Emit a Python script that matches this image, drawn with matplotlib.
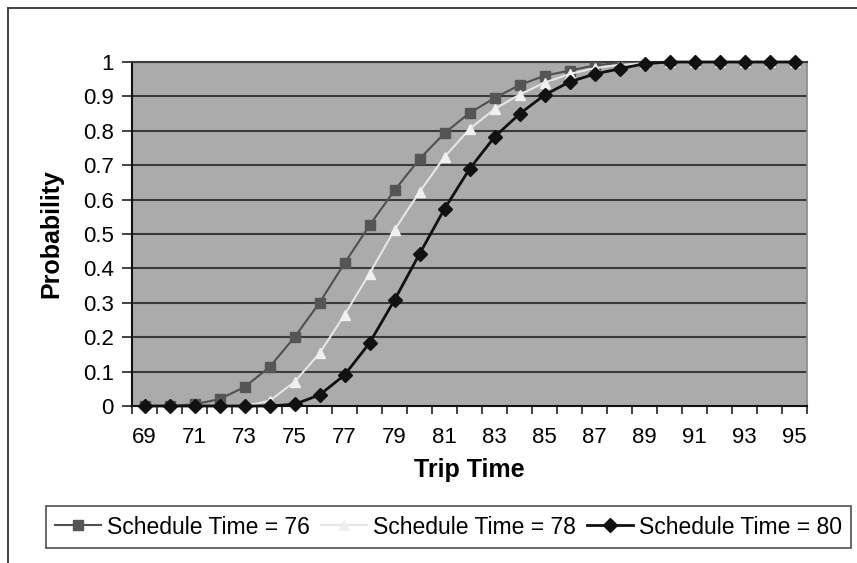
import matplotlib
matplotlib.use("Agg")
import matplotlib.pyplot as plt
from matplotlib.lines import Line2D

plt.rcParams['font.family'] = ['Liberation Sans', 'DejaVu Sans']

trip_time = list(range(69, 96))
sched_76 = [0, 0, 0.005, 0.02, 0.055, 0.113, 0.2, 0.30, 0.415, 0.525, 0.627, 0.718, 0.793,
            0.852, 0.895, 0.933, 0.96, 0.975, 0.99, 0.997, 1.0, 1.0, 1.0, 1.0, 1.0, 1.0, 1.0]
sched_78 = [0, 0, 0, 0, 0, 0.015, 0.07, 0.153, 0.265, 0.385, 0.512, 0.622, 0.724,
            0.805, 0.863, 0.905, 0.94, 0.965, 0.982, 0.992, 0.996, 1.0, 1.0, 1.0, 1.0, 1.0, 1.0]
sched_80 = [0, 0, 0, 0, 0, 0, 0.005, 0.032, 0.09, 0.183, 0.308, 0.442, 0.573,
            0.689, 0.782, 0.849, 0.904, 0.942, 0.965, 0.98, 0.995, 1.0, 1.0, 1.0, 1.0, 1.0, 1.0]
series_labels = ["Schedule Time = 76", "Schedule Time = 78", "Schedule Time = 80"]
y_ticks = [0, 0.1, 0.2, 0.3, 0.4, 0.5, 0.6, 0.7, 0.8, 0.9, 1]
y_tick_labels = ["0", "0.1", "0.2", "0.3", "0.4", "0.5", "0.6", "0.7", "0.8", "0.9", "1"]

W, H = 857, 563
fig = plt.figure(figsize=(W / 100, H / 100), dpi=100)
fig.patch.set_facecolor('white')

# outer (cropped) chart frame
fig.add_artist(Line2D([8 / W, 8 / W], [0, 1 - 8 / H], transform=fig.transFigure, color='#333333', lw=1.3))
fig.add_artist(Line2D([8 / W, 1], [1 - 8 / H, 1 - 8 / H], transform=fig.transFigure, color='#333333', lw=1.3))

x0, x1, y0, y1 = 132, 807, 62, 406
ax = fig.add_axes([x0 / W, 1 - y1 / H, (x1 - x0) / W, (y1 - y0) / H])
ax.set_facecolor('#ababab')

idx = list(range(len(trip_time)))
ax.set_xlim(-0.5, len(trip_time) - 0.5)
ax.set_ylim(0, 1)

for v in y_ticks[1:]:
    ax.axhline(v, color='#3a3a3a', lw=1.5, zorder=1)

ax.plot(idx, sched_76, color='#505050', lw=1.5, marker='s', ms=7, mfc='#555555', mec='#555555',
        label=series_labels[0], zorder=3)
ax.plot(idx, sched_78, color='#e6e6e6', lw=1.5, marker='^', ms=7, mfc='#f0f0f0', mec='#f0f0f0',
        label=series_labels[1], zorder=3)
ax.plot(idx, sched_80, color='#111111', lw=2, marker='D', ms=7.5, mfc='#111111', mec='#111111',
        label=series_labels[2], zorder=4, clip_on=False)

ax.set_yticks(y_ticks)
ax.set_yticklabels(y_tick_labels, fontsize=16)
ax.tick_params(axis='y', direction='out', length=7, width=1.2, color='#222222', pad=6)

bounds = [i - 0.5 for i in range(len(trip_time) + 1)]
ax.set_xticks(bounds)
ax.set_xticklabels([])
ax.tick_params(axis='x', which='major', direction='out', length=6, width=1.2, color='#222222')
ax.set_xticks(idx[::2], minor=True)
ax.set_xticklabels([str(t) for t in trip_time[::2]], minor=True, fontsize=16)
ax.tick_params(axis='x', which='minor', length=0, pad=15)

ax.set_xlabel("Trip Time", fontsize=18, fontweight='bold', labelpad=7)
ax.set_ylabel("Probability", fontsize=18, fontweight='bold', labelpad=14)

for s in ['left', 'bottom']:
    ax.spines[s].set_color('#111111')
    ax.spines[s].set_linewidth(1.5)
ax.spines['top'].set_color('#3a3a3a')
ax.spines['top'].set_linewidth(1.5)
ax.spines['right'].set_color('#888888')
ax.spines['right'].set_linewidth(1.2)

lx0, lx1, ly0, ly1 = 45, 852, 507, 547
leg = fig.legend(loc='center', bbox_to_anchor=((lx0 + lx1) / 2 / W, 1 - (ly0 + ly1) / 2 / H),
                 ncol=3, fontsize=16.5, frameon=True, fancybox=False, handlelength=2.0,
                 columnspacing=0.5, handletextpad=0.25, borderpad=0.4, borderaxespad=0)
leg.get_frame().set_edgecolor('#222222')
leg.get_frame().set_linewidth(1.2)

fig.savefig('out.png', dpi=100)
